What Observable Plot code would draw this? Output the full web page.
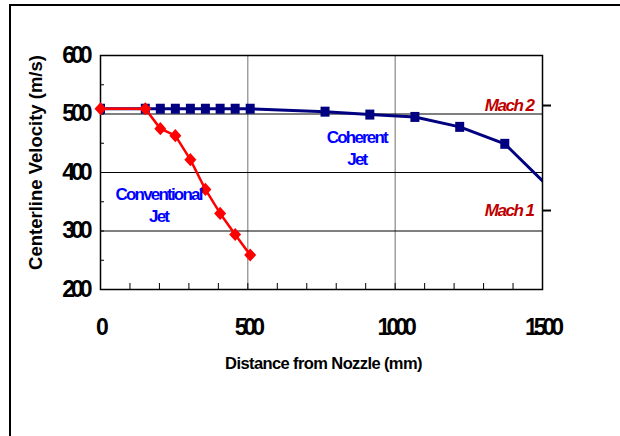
<!DOCTYPE html>
<html><head><meta charset="utf-8">
<script src="https://cdn.jsdelivr.net/npm/d3@7"></script>
<script src="https://cdn.jsdelivr.net/npm/@observablehq/plot@0.6"></script>
<style>
html,body{margin:0;padding:0;background:#fff;}
#wrap{position:relative;width:620px;height:436px;overflow:hidden;}
#wrap svg{position:absolute;left:0;top:0;}
#border{position:absolute;left:9px;top:4px;width:700px;height:600px;border-left:2px solid #000;border-top:2px solid #000;}
g[aria-label="y-axis tick label"] text, g[aria-label="x-axis tick label"] text{letter-spacing:-4px;}
</style>
</head><body>
<div id="wrap"><div id="border"></div></div>
<script>
// Conventional jet (red diamonds)
const distConv = [0, 152, 203, 254, 305, 356, 406, 457, 508];
const velConv  = [509, 509, 475, 463, 422, 371, 330, 294, 259];
// Coherent jet (navy squares)
const distCoh = [0, 152, 203, 254, 305, 356, 406, 457, 508, 762, 914, 1067, 1219, 1372, 1524];
const velCoh  = [509, 509, 509, 509, 509, 509, 509, 509, 509, 504, 499, 495, 478, 449, 374];
// Axes
const xTicks = [0, 500, 1000, 1500];
const xMinor = [0,100,200,300,400,500,600,700,800,900,1000,1100,1200,1300,1400,1500];
const yTicks = [200, 300, 400, 500, 600];
const yMinor = [200,250,300,350,400,450,500,550,600];
const vGrid = [500, 1000];
const hGrid = [300, 400, 500];
// Mach markers on right axis
const machLabels = ["Mach 2", "Mach 1"];
const machVals = [514.5, 335];
// Annotations
const annoText = ["Conventional\nJet", "Coherent\nJet"];
const annoX = [197, 870];
const annoY = [347, 443];
const xTitle = "Distance from Nozzle (mm)";
const yTitle = "Centerline Velocity (m/s)";

const conv = distConv.map((d, i) => ({dist: d, vel: velConv[i]}));
const coh = distCoh.map((d, i) => ({dist: d, vel: velCoh[i]}));
const mach = machLabels.map((l, i) => ({label: l, v: machVals[i]}));
const anno = annoText.map((t, i) => ({t, x: annoX[i], y: annoY[i]}));

const diamondSym = {draw(ctx, size) { const r = Math.sqrt(size / Math.PI); const w = r, h = r * 1.1;
  ctx.moveTo(0, -h); ctx.lineTo(w, 0); ctx.lineTo(0, h); ctx.lineTo(-w, 0); ctx.closePath(); }};
const squareSym = {draw(ctx, size) { const r = Math.sqrt(size / Math.PI); ctx.rect(-0.9 * r, -r, 1.8 * r, 2 * r); }};

const plot = Plot.plot({
  width: 620, height: 436,
  marginLeft: 100, marginRight: 78, marginTop: 55, marginBottom: 147,
  style: {fontFamily: "'Liberation Sans', Arial, sans-serif", background: "transparent", color: "black"},
  x: {domain: [0, 1500]},
  y: {domain: [200, 600]},
  marks: [
    Plot.gridX(vGrid, {stroke: "#707070", strokeOpacity: 1, strokeWidth: 1}),
    Plot.gridY(hGrid, {stroke: "black", strokeOpacity: 1, strokeWidth: 1}),
    Plot.axisY({ticks: yMinor, tickSize: 4, insetLeft: 4, tickFormat: () => "", label: null}),
    Plot.axisX({ticks: xMinor, tickSize: 6, insetBottom: 6, tickFormat: () => "", label: null}),
    Plot.axisY({ticks: yTicks, tickSize: 0, tickPadding: 12, fontSize: 23, fontWeight: "bold", label: null, tickFormat: d => String(d)}),
    Plot.axisX({ticks: xTicks, tickSize: 0, tickPadding: 29, fontSize: 23, fontWeight: "bold", label: null, tickFormat: d => String(d)}),
    Plot.axisY({anchor: "right", ticks: machVals, tickSize: 8, strokeWidth: 2, tickFormat: () => "", label: null}),
    Plot.frame({stroke: "black", strokeWidth: 1.5}),
    Plot.line(coh, {x: "dist", y: "vel", stroke: "#000080", strokeWidth: 3, clip: true}),
    Plot.dot(coh, {x: "dist", y: "vel", symbol: squareSym, r: 5, fill: "#000080", clip: true}),
    Plot.line(conv, {x: "dist", y: "vel", stroke: "#ff0000", strokeWidth: 2.5}),
    Plot.dot(conv, {x: "dist", y: "vel", symbol: diamondSym, r: 6, fill: "#ff0000"}),
    Plot.text(mach, {y: "v", text: "label", frameAnchor: "right", dx: -9, textAnchor: "end",
      fill: "#c00000", fontSize: 17, fontStyle: "italic", fontWeight: "bold"}),
    Plot.text(anno, {x: "x", y: "y", text: "t", fill: "#0000ff", fontSize: 17, fontWeight: "bold", lineHeight: 1.3}),
    Plot.text([yTitle], {text: d => d, frameAnchor: "left", textAnchor: "middle", rotate: -90, dx: -64, dy: -10,
      fontSize: 18.5, fontWeight: "bold"}),
    Plot.text([xTitle], {text: d => d, frameAnchor: "bottom", dy: 79, dx: 2,
      fontSize: 16.5, fontWeight: "bold"})
  ]
});
// tighten letter spacing of certain texts to match the condensed original
d3.select(plot).selectAll("text").each(function() {
  const t = this.textContent;
  if (t === xTitle) this.style.letterSpacing = "-0.6px";
  else if (machLabels.includes(t)) this.style.letterSpacing = "-1.5px";
  else if (annoText.some(a => a.replace("\n", "") === t)) this.style.letterSpacing = "-1.8px";
});
document.getElementById("wrap").appendChild(plot);
</script>
</body></html>
